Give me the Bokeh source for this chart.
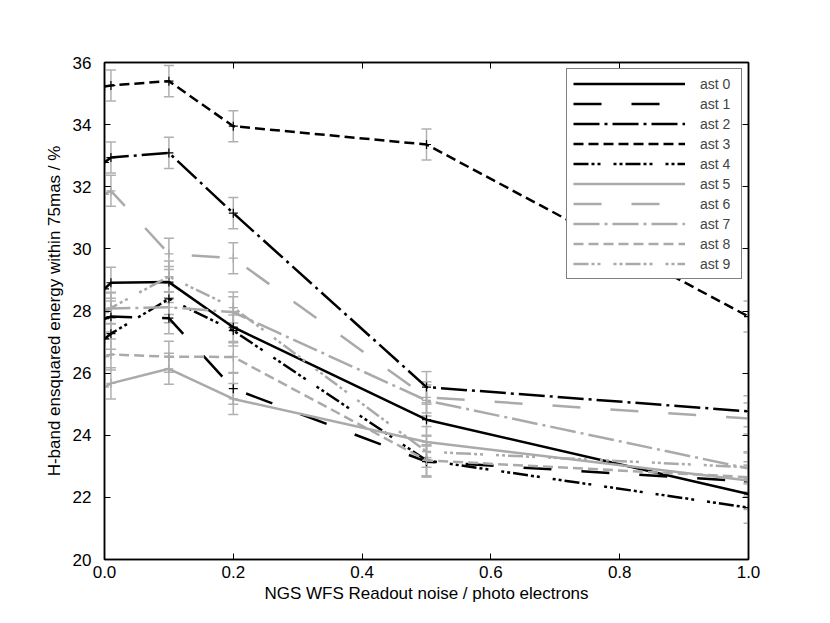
from bokeh.plotting import figure
from bokeh.models import (ColumnDataSource, Whisker, TeeHead, LinearAxis, FixedTicker,
                          Legend, LegendItem, Range1d, NumeralTickFormatter)
from bokeh.embed import file_html
from bokeh.resources import INLINE

# ---------------- data ----------------
noise = [0.0, 0.01, 0.1, 0.2, 0.5, 1.0]
labels = ["ast 0", "ast 1", "ast 2", "ast 3", "ast 4",
          "ast 5", "ast 6", "ast 7", "ast 8", "ast 9"]
ast0 = [28.71, 28.91, 28.93, 27.48, 24.50, 22.11]
ast1 = [27.75, 27.82, 27.77, 25.50, 23.15, 22.51]
ast2 = [32.78, 32.94, 33.09, 31.15, 25.55, 24.77]
ast3 = [35.23, 35.26, 35.40, 33.95, 33.36, 27.82]
ast4 = [27.10, 27.27, 28.39, 27.37, 23.19, 21.67]
ast5 = [25.55, 25.67, 26.14, 25.17, 23.78, 22.54]
ast6 = [31.75, 31.87, 29.84, 29.70, 25.22, 24.54]
ast7 = [28.04, 28.08, 28.12, 27.96, 25.12, 22.93]
ast8 = [26.53, 26.60, 26.53, 26.52, 23.19, 22.65]
ast9 = [27.95, 28.10, 29.11, 28.11, 23.47, 22.97]
series = [ast0, ast1, ast2, ast3, ast4, ast5, ast6, ast7, ast8, ast9]
# half-width of error bars (points after the first)
err = [0.5, 0.5, 0.5, 0.5, 0.5]
xticks = [0.0, 0.2, 0.4, 0.6, 0.8, 1.0]
yticks = [20, 22, 24, 26, 28, 30, 32, 34, 36]

# ---------------- styles ----------------
BLACK = "#000000"
GRAY = "#aaaaaa"
ERRC = "#b0b0b0"
colors = [BLACK] * 5 + [GRAY] * 5
dashes = ["solid", "28 30", "26 5 3 5", "10 5", "15 3 3 3 3 13 3 3 3 3"] * 2
FONT = "Liberation Sans"

p = figure(width=815, height=615, x_range=Range1d(0, 1), y_range=Range1d(20, 36),
           output_backend="svg", toolbar_location=None,
           min_border_left=104, min_border_right=67, min_border_top=62,
           min_border_bottom=56)
p.xgrid.visible = False
p.ygrid.visible = False
p.outline_line_color = "black"
p.outline_line_width = 1.5
p.background_fill_color = "white"
p.border_fill_color = "white"

for ax in p.xaxis + p.yaxis:
    ax.major_tick_in = 6
    ax.major_tick_out = 0
    ax.minor_tick_line_color = None
    ax.axis_line_width = 1.5
    ax.major_tick_line_width = 1
    ax.major_label_text_font = FONT
    ax.major_label_text_font_size = "17px"
    ax.major_label_text_color = "black"
    ax.axis_label_text_font = FONT
    ax.axis_label_text_font_size = "17px"
    ax.axis_label_text_font_style = "normal"
    ax.axis_label_text_color = "black"

p.xaxis.ticker = FixedTicker(ticks=xticks)
p.xaxis.formatter = NumeralTickFormatter(format="0.0")
p.yaxis.ticker = FixedTicker(ticks=yticks)
p.xaxis.axis_label = "NGS WFS Readout noise / photo electrons"
p.yaxis.axis_label = "H-band ensquared energy within 75mas / %"
p.xaxis.major_label_standoff = 6
p.xaxis.axis_label_standoff = 3
p.yaxis.major_label_standoff = 13
p.yaxis.axis_label_standoff = 6

# mirrored ticks on top and right
top = LinearAxis(ticker=FixedTicker(ticks=xticks), major_label_text_color=None,
                 major_tick_in=6, major_tick_out=0, minor_tick_line_color=None,
                 axis_line_width=1.5, major_label_text_font_size="1px")
right = LinearAxis(ticker=FixedTicker(ticks=yticks), major_label_text_color=None,
                   major_tick_in=6, major_tick_out=0, minor_tick_line_color=None,
                   axis_line_width=1.5, major_label_text_font_size="1px")
p.add_layout(top, "above")
p.add_layout(right, "right")

# error bars
ex, eu, el = [], [], []
for ys in series:
    for xv, yv, e in zip(noise[1:], ys[1:], err):
        ex.append(xv)
        eu.append(yv + e)
        el.append(yv - e)
esrc = ColumnDataSource(dict(x=ex, upper=eu, lower=el))
p.add_layout(Whisker(base="x", upper="upper", lower="lower", source=esrc,
                     dimension="height", line_color=ERRC, line_width=1.5,
                     upper_head=TeeHead(size=10, line_color=ERRC, line_width=1.5),
                     lower_head=TeeHead(size=10, line_color=ERRC, line_width=1.5)))

items = []
for lab, ys, c, d in zip(labels, series, colors, dashes):
    r = p.line(noise, ys, line_color=c, line_width=2.5, line_dash=d)
    p.scatter(noise, ys, marker="cross", size=9, line_color=c, line_width=1.2)
    items.append(LegendItem(label=lab, renderers=[r]))

legend = Legend(items=items, location="top_right", margin=6,
                border_line_color="black", border_line_width=1,
                background_fill_color="white", background_fill_alpha=1,
                label_text_font=FONT, label_text_font_size="14px",
                glyph_width=112, glyph_height=17, label_height=17, spacing=3,
                padding=6, label_standoff=15, label_width=35)
p.add_layout(legend)

open("out.html", "w").write(file_html(p, INLINE))
